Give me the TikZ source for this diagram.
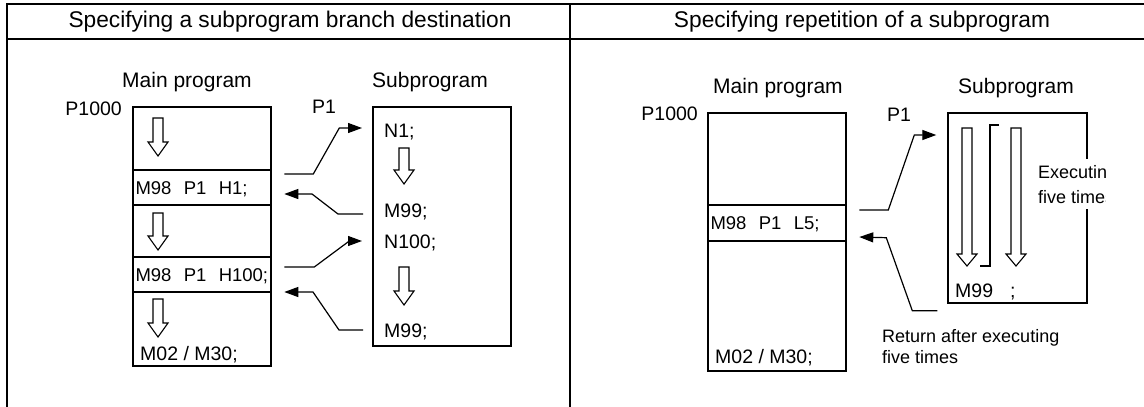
\documentclass[tikz,border=0pt]{standalone}
\usepackage{fontspec}
\setmainfont{Liberation Sans}
\usetikzlibrary{arrows.meta}

\newcommand{\titlesize}{\fontsize{22.7}{27}\selectfont}
\newcommand{\headsize}{\fontsize{21}{25}\selectfont}
\newcommand{\codesize}{\fontsize{19.5}{23}\selectfont}
\newcommand{\callsize}{\fontsize{18.5}{22}\selectfont}
\newcommand{\hollowarrow}[4]{%
  \draw[hollow] (#1-0.5,#2) -- (#1+0.5,#2) -- (#1+0.5,#3) -- (#1+1,#3)
    -- (#1,#4) -- (#1-1,#3) -- (#1-0.5,#3) -- cycle;}

\begin{document}
\begin{tikzpicture}[x=10pt, y=-10pt,
  prog/.style={draw, line width=1.4pt, inner sep=0pt},
  call/.style={draw, line width=2.6pt, minimum width=138pt, minimum height=35pt,
    text width=133pt, inner xsep=2.5pt, align=left, text height=13pt, text depth=0pt, font=\callsize},
  code/.style={anchor=base west, inner sep=0pt, font=\codesize},
  head/.style={anchor=base, inner sep=0pt, font=\headsize},
  hollow/.style={draw, line width=1.1pt, fill=white},
  link/.style={line width=1.2pt, -{Triangle[length=14pt,width=10pt]}}]
\useasboundingbox (0,0) rectangle (114.4,40.7);

% table
\draw[line width=2.4pt] (0.7,40.7) -- (0.7,0.4) -- (114.4,0.4);
\draw[line width=2.4pt] (0.7,3.9) -- (114.4,3.9);
\draw[line width=2.4pt] (57.0,0.4) -- (57.0,40.7);
\node[head, font=\titlesize] (tl) at (29.0,2.7) {Specifying a subprogram branch destination};
\node[head, font=\titlesize] (tr) at (86.2,2.7) {Specifying repetition of a subprogram};

% branch destination
\node[head] (ml) at (18.7,8.7) {Main program};
\node[head] (sl) at (43.0,8.7) {Subprogram};
\node[code, anchor=base east] (pl) at (12.2,11.5) {P1000};
\node[head, font=\codesize] (ql) at (32.4,11.3) {P1};
\node[prog, minimum width=138pt, minimum height=259pt] (mainl) at (20.2,23.65) {};
\node[prog, minimum width=138pt, minimum height=239pt] (subl) at (44.2,22.65) {};
\node[call] (h1) at (20.2,18.75) {M98\ \ P1\ \ H1;};
\node[call] (h2) at (20.2,27.45) {M98\ \ P1\ \ H100;};
\node[code] (el) at (14.0,36.0) {M02 / M30;};
\hollowarrow{15.8}{11.8}{14.2}{15.6}
\hollowarrow{15.8}{21.3}{23.6}{25.0}
\hollowarrow{15.8}{29.9}{32.3}{33.7}
\node[code] (n1) at (38.4,13.7) {N1;};
\node[code] (m1) at (38.4,21.7) {M99;};
\node[code] (n2) at (38.4,24.8) {N100;};
\node[code] (m2) at (38.4,33.7) {M99;};
\hollowarrow{40.4}{14.8}{17.0}{18.4}
\hollowarrow{40.4}{26.7}{29.1}{30.5}
\draw[link] ([shift={(12pt,13.5pt)}]h1.east) -- ++(2.9,0) -- ++(2.6,-4.6) -- ([shift={(-22pt,9pt)}]n1.base west);
\draw[link] ([shift={(-21pt,3pt)}]m1.base west) -- ++(-2.5,0) -- ++(-2.6,-2.0) -- ([shift={(12pt,-6.5pt)}]h1.east);
\draw[link] ([shift={(12pt,7.5pt)}]h2.east) -- ++(3.0,0) -- ++(3.5,-2.6) -- ([shift={(-22pt,7pt)}]n2.base west);
\draw[link] ([shift={(-21pt,7pt)}]m2.base west) -- ++(-2.4,0) -- ++(-2.6,-3.8) -- ([shift={(12pt,-17.5pt)}]h2.east);

% repetition
\node[head] (mr) at (77.8,9.3) {Main program};
\node[head] (sr) at (101.6,9.3) {Subprogram};
\node[code, anchor=base east] (pr) at (69.8,12.0) {P1000};
\node[head, font=\codesize] (qr) at (89.9,12.1) {P1};
\node[prog, minimum width=138pt, minimum height=258pt] (mainr) at (77.7,24.2) {};
\node[prog, minimum width=139pt, minimum height=190pt] (subr) at (101.75,20.8) {};
\node[call, minimum height=36pt] (l5) at (77.7,22.3) {M98\ \ P1\ \ L5;};
\node[code] (er) at (71.5,36.3) {M02 / M30;};
\hollowarrow{96.7}{12.8}{25.4}{26.6}
\hollowarrow{101.6}{12.8}{25.4}{26.6}
\draw[line width=1.1pt] (99.9,12.5) -- (99.0,12.5) -- (99.0,26.6) -- (98.0,26.6);
\node[code] (m5) at (95.5,29.7) {M99\hspace{17pt};};
\begin{scope}
\clip (100,14) rectangle (110.5,22.5);
\node[anchor=north west, inner xsep=0pt, inner ysep=6pt, fill=white, align=left,
  font=\fontsize{18}{25}\selectfont] (ex) at (103.8,15.9) {Executing\\five times};
\end{scope}
\node[anchor=north west, inner sep=0pt, align=left,
  font=\fontsize{18}{21.5}\selectfont] (rt) at (88.2,32.9) {Return after executing\\five times};
\draw[link] ([shift={(12pt,13pt)}]l5.east) -- ++(2.9,0) -- ++(2.6,-7.5) -- ([shift={(-11pt,73pt)}]subr.west);
\draw[link] ([shift={(-10pt,-7pt)}]subr.south west) -- ++(-2.5,0) -- ++(-2.6,-7.3) -- ([shift={(12pt,-14pt)}]l5.east);
\end{tikzpicture}
\end{document}
